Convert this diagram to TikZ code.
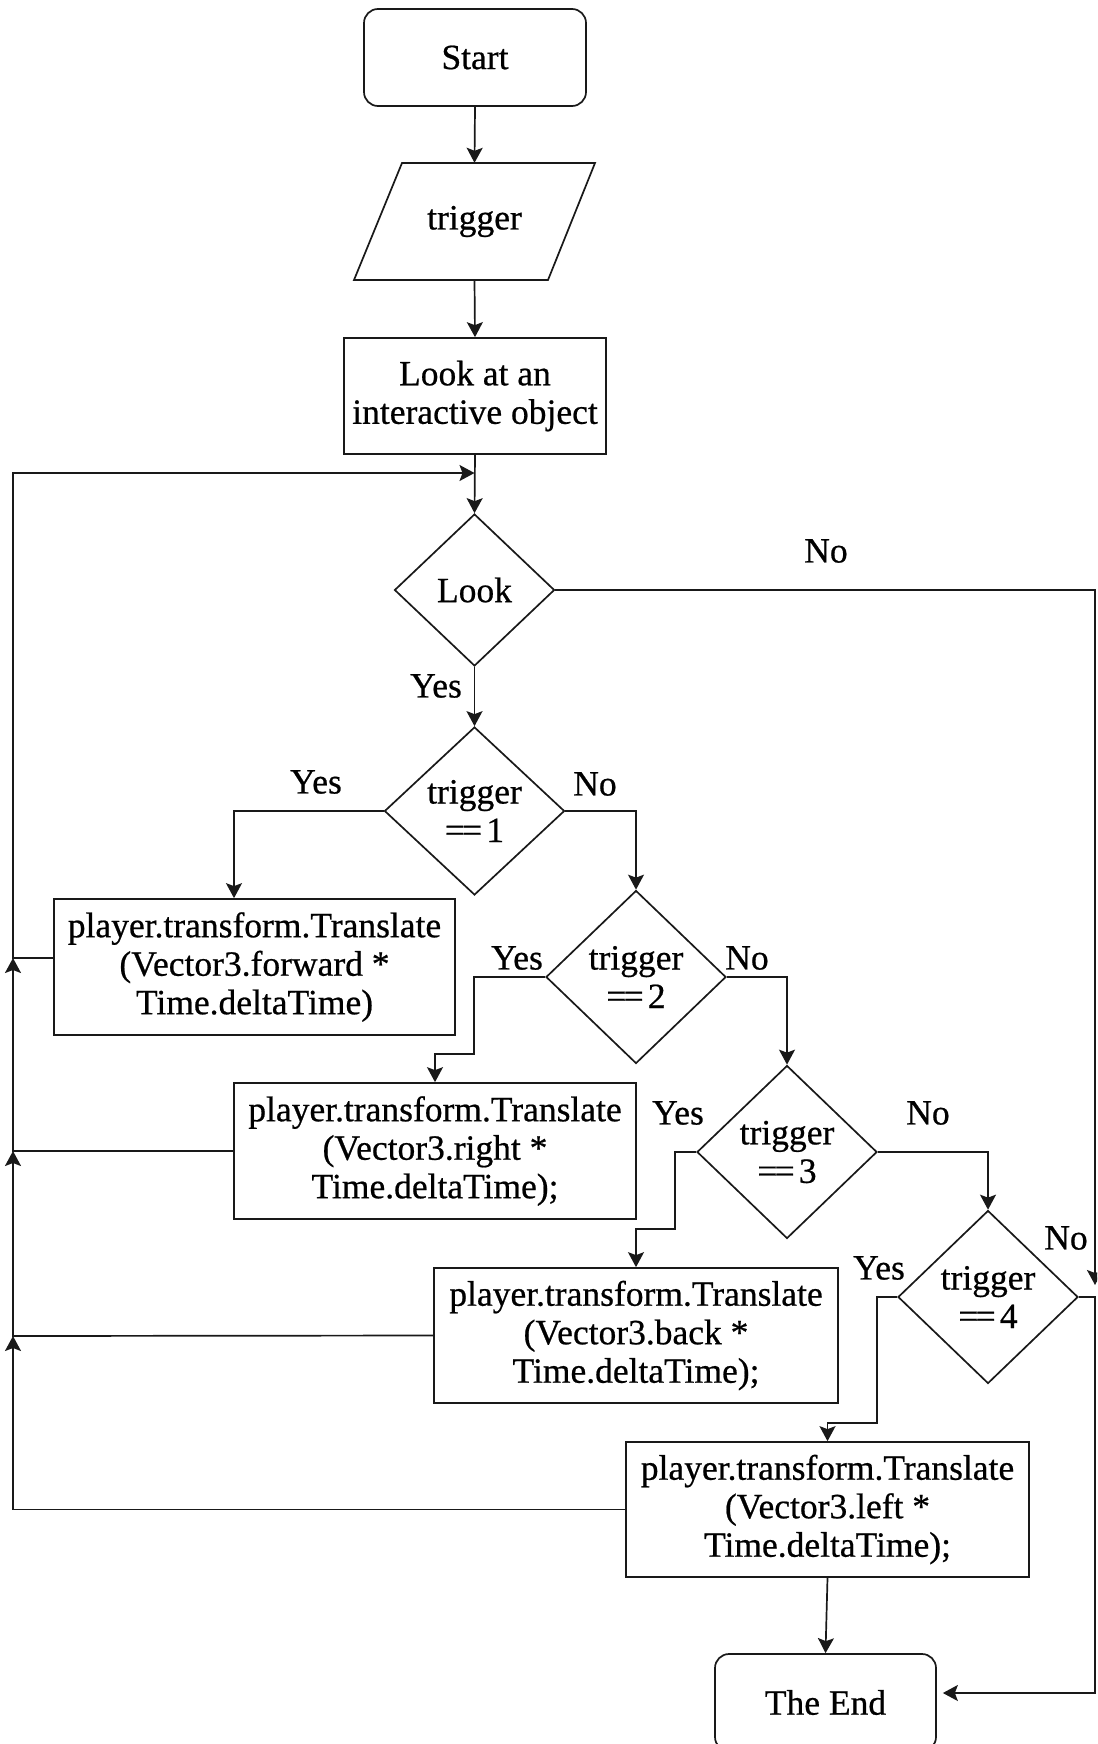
\documentclass[tikz,border=0pt]{standalone}
\usepackage{fontspec}
\setmainfont{Liberation Serif}[FakeBold=0.6]
\usetikzlibrary{shapes.geometric,arrows.meta,calc}
\newcommand{\deq}{=\kern-.08em=\kern.12em}
\begin{document}
\begin{tikzpicture}[x=1pt,y=-1pt,
  every node/.style={font=\fontsize{35.5}{38.5}\selectfont},
  ln/.style={draw=black!90,line width=1.7pt},
  arr/.style={ln,-{Stealth[length=15pt,width=16pt,inset=3pt]}},
  term/.style={ln,rounded corners=14pt,minimum width=222pt,minimum height=97pt,inner sep=0pt},
  proc/.style={ln,minimum width=402pt,minimum height=136pt,inner sep=0pt,align=center},
  dec/.style={ln,shape=diamond,inner sep=0pt,align=center,minimum width=180pt,minimum height=173pt},
  lbl/.style={inner sep=0pt}
]
\clip (0,0) rectangle (1097,1744);
% nodes
\node[term] (start) at (475,57.5) {Start};
\node[inner sep=0pt,minimum width=193pt,minimum height=117pt] (trig) at (474.5,221.5) {trigger};
\draw[ln] (402,163) -- (595,163) -- (548,280) -- (354,280) -- cycle;
\node[proc,minimum width=262pt,minimum height=116pt] (look) at (475,396) {Look at an\\interactive object};
\node[dec,minimum width=160pt,minimum height=152pt] (dlook) at (474.5,590) {Look};
\node[dec,minimum height=168pt] (d1) at (474.5,811) {trigger\\\deq 1};
\node[dec] (d2) at (636,977) {trigger\\\deq 2};
\node[dec] (d3) at (787,1152) {trigger\\\deq 3};
\node[dec] (d4) at (988,1297) {trigger\\\deq 4};
\node[proc,minimum width=401pt] (b1) at (254.5,967) {player.transform.Translate\\(Vector3.forward *\\Time.deltaTime)};
\node[proc] (b2) at (435,1151) {player.transform.Translate\\(Vector3.right *\\Time.deltaTime);};
\node[proc,minimum width=404pt,minimum height=135pt] (b3) at (636,1335.5) {player.transform.Translate\\(Vector3.back *\\Time.deltaTime);};
\node[proc,minimum width=403pt,minimum height=135pt] (b4) at (827.5,1509.5) {player.transform.Translate\\(Vector3.left *\\Time.deltaTime);};
\node[term,minimum width=221pt] (end) at (825.5,1702.5) {The End};
% coordinates
\coordinate (loopin) at (474.5,473);
\coordinate (top) at (13,473);
\coordinate (j1) at (13,958);
\coordinate (j2) at (13,1151);
\coordinate (j3) at (13,1336);
\coordinate (rtop) at (1095,590);
\coordinate (rj) at (1095,1297);
\coordinate (rbot) at (1095,1693);
% main flow
\draw[arr] (start.south) -- (trig.north);
\draw[arr] (trig.south) -- (look.north);
\draw[arr] (look.south) -- (dlook.north);
\draw[arr] (dlook.south) -- (d1.north);
\draw[arr] (d1.west) -| ([xshift=-20.5pt]b1.north);
\draw[arr] (d1.east) -| (d2.north);
\draw[arr] (d2.west) -- ++(-71,0) -- ++(0,77) -| (b2.north);
\draw[arr] (d2.east) -| (d3.north);
\draw[arr] (d3.west) -- ++(-21,0) -- ++(0,77) -| (b3.north);
\draw[arr] (d3.east) -| (d4.north);
\draw[arr] (d4.west) -- ++(-20,0) -- ++(0,126) -| (b4.north);
\draw[arr] (b4.south) -- (end.north);
% No branches to the end
\draw[arr,shorten >=12pt] (dlook.east) -- (rtop) -- (rj);
\draw[arr,shorten >=6pt] (d4.east) -- (rj) -- (rbot) -- ([yshift=9.5pt]end.east);
% loops back
\draw[arr] ([yshift=9pt]b1.west) -- (j1) -- (top) -- (loopin);
\draw[arr] (b2.west) -- (j2) -- (j1);
\draw[arr] (b3.west) -- (j3) -- (j2);
\draw[arr] (b4.west) -- (b4.west -| j1) -- (j3);
% labels
\node[lbl] (l0) at (826,551) {No};
\node[lbl] (l1) at (436,686) {Yes};
\node[lbl] (l2) at (316,782) {Yes};
\node[lbl] (l3) at (595,784) {No};
\node[lbl] (l4) at (517,958) {Yes};
\node[lbl] (l5) at (747,958) {No};
\node[lbl] (l6) at (678,1113) {Yes};
\node[lbl] (l7) at (928,1113) {No};
\node[lbl] (l8) at (879,1268) {Yes};
\node[lbl] (l9) at (1066,1238) {No};
\end{tikzpicture}
\end{document}
